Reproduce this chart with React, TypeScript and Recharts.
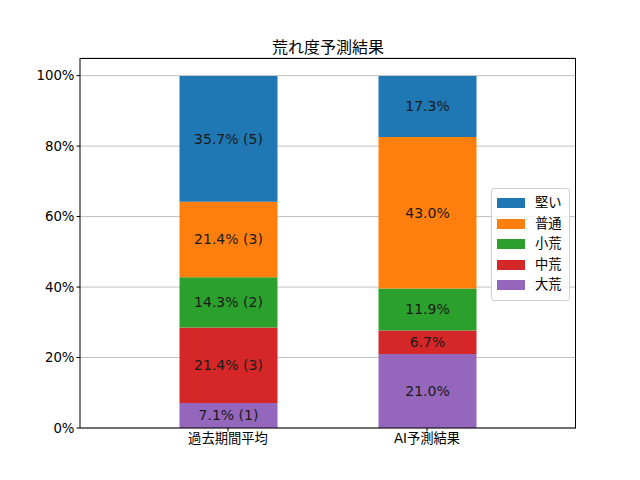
import React from 'react';
import { BarChart, Bar, XAxis, YAxis, CartesianGrid, LabelList } from 'recharts';

// categories on the x axis
const categories = ['過去期間平均', 'AI予測結果'];

// stacked shares (%) per class, bottom to top
const daiare = [7.1, 21.0];
const chuare = [21.4, 6.7];
const shoare = [14.3, 11.9];
const futsu = [21.4, 43.0];
const katai = [35.7, 17.3];

// counts shown beside the past-average percentages (none for the AI bar)
const daiareCount = [1, null];
const chuareCount = [3, null];
const shoareCount = [2, null];
const futsuCount = [3, null];
const kataiCount = [5, null];

const yTicks = [0, 20, 40, 60, 80, 100];

const series = [
  { key: 'daiare', name: '大荒', color: '#9467bd', values: daiare, counts: daiareCount },
  { key: 'chuare', name: '中荒', color: '#d62728', values: chuare, counts: chuareCount },
  { key: 'shoare', name: '小荒', color: '#2ca02c', values: shoare, counts: shoareCount },
  { key: 'futsu', name: '普通', color: '#ff7f0e', values: futsu, counts: futsuCount },
  { key: 'katai', name: '堅い', color: '#1f77b4', values: katai, counts: kataiCount },
];

const FONT = '"DejaVu Sans", "Noto Sans CJK JP", sans-serif';

// plot area (matches margins below)
const PLOT = { left: 80, top: 58, right: 576, bottom: 428 };

const data = categories.map((name, i) => {
  const row: Record<string, any> = { name };
  series.forEach((s) => {
    const v = s.values[i];
    const c = s.counts[i];
    row[s.key] = v;
    row[s.key + 'Label'] = c == null ? `${v.toFixed(1)}%` : `${v.toFixed(1)}% (${c})`;
  });
  return row;
});

const LegendBox = () => (
  <div
    style={{
      position: 'absolute',
      left: 491,
      top: 188,
      boxSizing: 'border-box',
      width: 79,
      border: '1px solid #d0d0d0',
      borderRadius: 3,
      background: 'rgba(255,255,255,0.8)',
      padding: '4px 4px 4px 5px',
      fontFamily: FONT,
      fontSize: 13.3,
      color: '#000',
      whiteSpace: 'nowrap',
    }}
  >
    {[...series].reverse().map((s) => (
      <div key={s.key} style={{ display: 'flex', alignItems: 'center', height: 20.5 }}>
        <span style={{ display: 'inline-block', flex: 'none', width: 28, height: 10, background: s.color, marginRight: 10 }} />
        <span style={{ lineHeight: '16px' }}>{s.name}</span>
      </div>
    ))}
  </div>
);

const App: React.FC = () => {
  return (
    <div style={{ position: 'absolute', left: 0, top: 0, width: 640, height: 480, background: '#fff' }}>
      <div
        style={{
          position: 'absolute',
          left: PLOT.left,
          width: PLOT.right - PLOT.left,
          top: 34,
          textAlign: 'center',
          fontFamily: FONT,
          fontSize: 16,
          color: '#000',
        }}
      >
        荒れ度予測結果
      </div>
      <BarChart
        width={640}
        height={480}
        data={data}
        margin={{ top: PLOT.top, right: 640 - PLOT.right, bottom: 22, left: 0 }}
        barCategoryGap={0}
        style={{ fontFamily: FONT }}
      >
        <CartesianGrid vertical={false} stroke="#b0b0b0" strokeWidth={0.8} />
        <XAxis
          dataKey="name"
          height={30}
          padding={{ left: 48.5, right: 49.5 }}
          axisLine={{ stroke: '#000', strokeWidth: 1 }}
          tickLine={{ stroke: '#000' }}
          tickSize={3.5}
          tick={{ fill: '#000', fontSize: 13.3 }}
        />
        <YAxis
          width={80}
          domain={[0, 105]}
          ticks={yTicks}
          allowDataOverflow
          tickFormatter={(v) => `${v}%`}
          axisLine={{ stroke: '#000', strokeWidth: 1 }}
          tickLine={{ stroke: '#000' }}
          tickSize={3.5}
          tick={{ fill: '#000', fontSize: 13.3 }}
        />
        {series.map((s) => (
          <Bar
            key={s.key}
            dataKey={s.key}
            name={s.name}
            stackId="a"
            fill={s.color}
            barSize={98}
            isAnimationActive={false}
          >
            <LabelList
              dataKey={s.key + 'Label'}
              position="center"
              fill="#1a1a1a"
              fontSize={14}
              fontFamily={FONT}
            />
          </Bar>
        ))}
      </BarChart>
      {/* top and right spines */}
      <div
        style={{
          position: 'absolute',
          left: PLOT.left,
          top: PLOT.top - 0.5,
          width: PLOT.right - PLOT.left,
          height: PLOT.bottom - PLOT.top,
          borderTop: '1px solid #000',
          borderRight: '1px solid #000',
          boxSizing: 'border-box',
          pointerEvents: 'none',
        }}
      />
      <LegendBox />
    </div>
  );
};

export default App;
